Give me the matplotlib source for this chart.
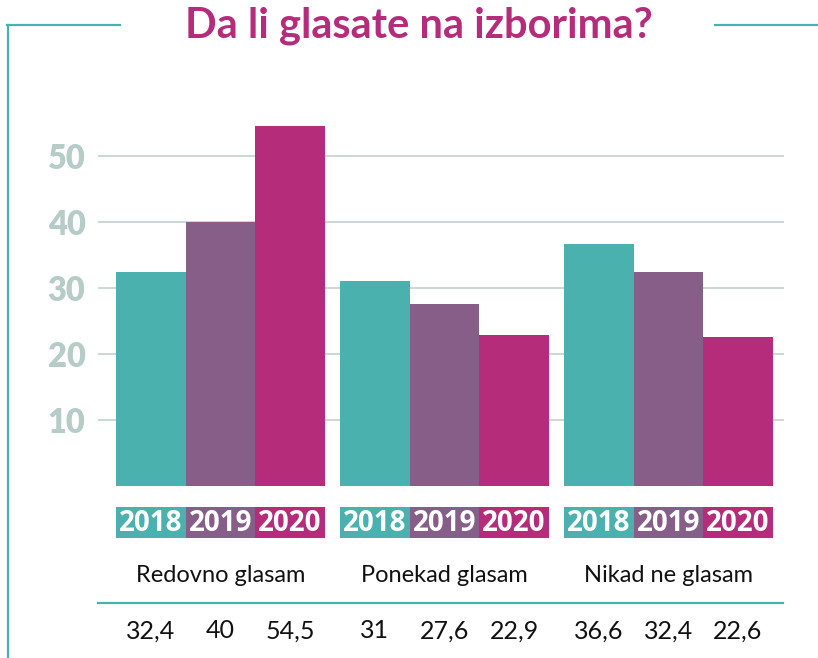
import matplotlib
matplotlib.use('Agg')
import matplotlib.pyplot as plt
import matplotlib.transforms as mtransforms
from matplotlib.lines import Line2D
import numpy as np

# 데이터
categories = ['Redovno glasam', 'Ponekad glasam', 'Nikad ne glasam']
years = ['2018', '2019', '2020']
v2018 = [32.4, 31, 36.6]
v2019 = [40, 27.6, 32.4]
v2020 = [54.5, 22.9, 22.6]
series = [v2018, v2019, v2020]
yticks = [10, 20, 30, 40, 50]

colors = ['#4AB1AE', '#865E88', '#B42C7A']
teal = '#4AB1AE'
grid_c = '#C5D5D2'
tick_c = '#B5CCC7'

W_PX, H_PX = 818, 658
fig = plt.figure(figsize=(W_PX / 100, H_PX / 100), dpi=100)

def fx(px):
    return px / W_PX

def fy(py):
    return 1 - py / H_PX

# 본 차트 영역
L, R = 98, 784
ax = fig.add_axes([fx(L), fy(485.5), fx(R - L), (485.5 - 115) / H_PX])
x = np.arange(len(categories))
w = 0.3107
for i, vals in enumerate(series):
    ax.bar(x + (i - 1) * w, vals, width=w, color=colors[i], zorder=3, linewidth=0)

ax.set_xlim(-0.547, 2.516)
ax.set_ylim(0, 56.2)
ax.set_yticks(yticks)
ax.set_yticklabels([str(t) for t in yticks], fontsize=23.5, fontweight='heavy',
                   color=tick_c, family='Lato')
ax.tick_params(axis='y', length=0, pad=9)
ax.set_xticks([])
ax.grid(axis='y', color=grid_c, linewidth=1.3, zorder=0)
for s in ax.spines.values():
    s.set_visible(False)

# 연도 박스 줄
ax2 = fig.add_axes([fx(L), fy(538), fx(R - L), 31 / H_PX])
ax2.set_xlim(ax.get_xlim())
ax2.set_ylim(0, 1)
for i, yr in enumerate(years):
    ax2.bar(x + (i - 1) * w, [1] * len(x), width=w, bottom=0, color=colors[i], linewidth=0)
    for xc in x:
        ax2.text(xc + (i - 1) * w, 0.47, yr, ha='center', va='center', color='white',
                 fontsize=20, fontweight='bold', family='Open Sans')
ax2.axis('off')

# 카테고리 / 값 라벨
trans = mtransforms.blended_transform_factory(ax.transData, fig.transFigure)
for xc, cat in zip(x, categories):
    ax.text(xc, fy(575), cat, transform=trans, ha='center', va='center',
            fontsize=17, color='#111111', family='Lato')
for i, vals in enumerate(series):
    for xc, v in zip(x, vals):
        lab = f'{v:g}'.replace('.', ',')
        ax.text(xc + (i - 1) * w, fy(631), lab, transform=trans, ha='center', va='center',
                fontsize=18, color='#111111', family='Lato')

# 제목
fig.text(0.512, fy(26), 'Da li glasate na izborima?', ha='center', va='center',
         fontsize=30, fontweight='bold', color='#B42C7A', family='Lato')

# 테두리 선
lw = 1.6
fig.add_artist(Line2D([fx(7.5), fx(7.5)], [fy(25), 0], color=teal, linewidth=lw))
fig.add_artist(Line2D([fx(7), fx(120)], [fy(25), fy(25)], color=teal, linewidth=lw))
fig.add_artist(Line2D([fx(715), 1], [fy(25), fy(25)], color=teal, linewidth=lw))
fig.add_artist(Line2D([fx(98), fx(783)], [fy(603), fy(603)], color=teal, linewidth=lw))

fig.savefig('out.png', dpi=100)
